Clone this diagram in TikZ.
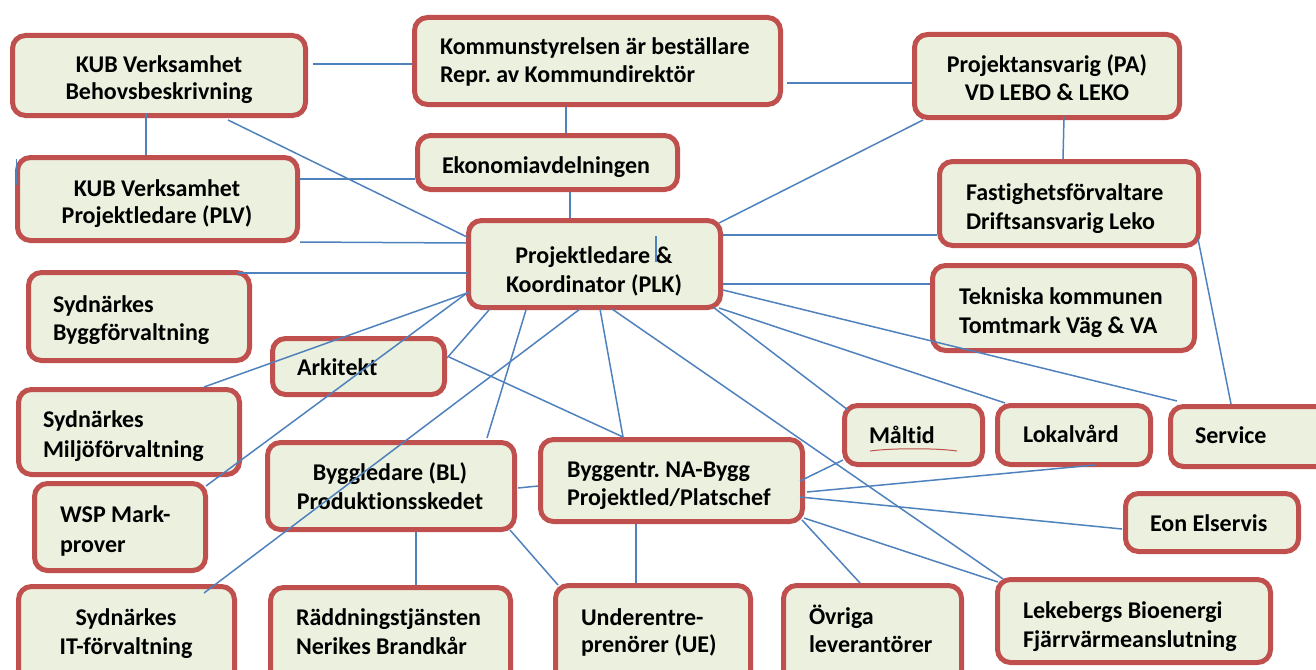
\documentclass[tikz,border=0pt]{standalone}
\usepackage{fontspec}
\setmainfont{Carlito}[Ligatures=NoCommon]
\frenchspacing
\usetikzlibrary{calc}
\definecolor{boxred}{HTML}{C0504D}
\definecolor{boxfill}{HTML}{EBF1DE}
\definecolor{linkblue}{HTML}{4F81BD}
% box by outer corners (pixels, y downward)
\newcommand\mkbox[5]{\node[orgbox, minimum width={#4-#2-5}, minimum height={#5-#3-5}] (#1) at ({(#2+#4)/2},{(#3+#5)/2}) {};}
% text: name, x, baseline y, anchor, line spacing, column spec, text
\newcommand\mktxt[7]{\node[lbl, font={\fontsize{24}{#5}\selectfont\bfseries}, anchor=#4] (#1) at (#2,#3) {\begin{tabular}[t]{@{}#6@{}}#7\end{tabular}};}
\begin{document}
\begin{tikzpicture}[x=1pt,y=-1pt,
  orgbox/.style={draw=boxred, fill=boxfill, line width=5pt, rounded corners=13pt, inner sep=0pt, outer sep=2.5pt},
  lbl/.style={inner sep=0pt, outer sep=0pt, text=black},
  link/.style={draw=linkblue, line width=1.5pt}]
\useasboundingbox (0,0) rectangle (1316,669);
% boxes
\mkbox{behov}{10}{33}{308}{118}
\mkbox{kommun}{412}{15}{783}{107}
\mkbox{pa}{912}{32}{1182}{120}
\mkbox{ekon}{415}{133}{680}{192}
\mkbox{plv}{15}{155}{300}{243}
\mkbox{fast}{937}{159}{1201}{248}
\mkbox{plk}{466}{218}{723}{310}
\mkbox{tek}{930}{263}{1197}{353}
\mkbox{sbygg}{26}{270}{252}{363}
\mkbox{ark}{270}{336}{447}{397}
\mkbox{smiljo}{16}{387}{242}{477}
\mkbox{wsp}{32}{481}{208}{573}
\mkbox{sit}{16}{584}{237}{700}
\mkbox{bl}{265}{440}{517}{532}
\mkbox{radd}{268}{585}{513}{700}
\mkbox{bentr}{538}{437}{805}{524}
\mkbox{malt}{842}{403}{985}{467}
\mkbox{lokal}{995}{403}{1153}{467}
\mkbox{serv}{1168}{404}{1340}{469}
\mkbox{eon}{1123}{491}{1301}{554}
\mkbox{ue}{553}{583}{753}{700}
\mkbox{ovr}{781}{583}{964}{700}
\mkbox{leke}{995}{577}{1273}{665}
% texts
\mktxt{tbehov}{159}{73}{base}{27}{c}{KUB Verksamhet\\Behovsbeskrivning}
\mktxt{tkommun}{440}{55}{base west}{28}{l}{Kommunstyrelsen är beställare\\Repr. av Kommundirektör}
\mktxt{tpa}{1047}{73}{base}{28}{c}{Projektansvarig (PA)\\VD LEBO \& LEKO}
\mktxt{tekon}{442}{173}{base west}{28}{l}{Ekonomiavdelningen}
\mktxt{tplv}{157}{196}{base}{27}{c}{KUB Verksamhet\\Projektledare (PLV)}
\mktxt{tplk}{594}{263}{base}{29}{c}{Projektledare \&\\Koordinator (PLK)}
\mktxt{tfast}{966}{200}{base west}{29}{l}{Fastighetsförvaltare\\Driftsansvarig Leko}
\mktxt{ttek}{959}{304}{base west}{29}{l}{Tekniska kommunen\\Tomtmark Väg \& VA}
\mktxt{tsbygg}{53}{312}{base west}{28}{l}{Sydnärkes\\Byggförvaltning}
\mktxt{tark}{297}{375}{base west}{28}{l}{Arkitekt}
\mktxt{tsmiljo}{43}{427}{base west}{30}{l}{Sydnärkes\\Miljöförvaltning}
\mktxt{twsp}{60}{522}{base west}{30}{l}{WSP Mark-\\prover}
\mktxt{tsit}{126}{625}{base}{29}{c}{Sydnärkes\\IT-förvaltning}
\mktxt{tbl}{390}{480}{base}{29}{c}{Byggledare (BL)\\Produktionsskedet}
\mktxt{tradd}{296}{625}{base west}{29}{l}{Räddningstjänsten\\Nerikes Brandkår}
\mktxt{tbentr}{567}{477}{base west}{28}{l}{Byggentr. NA-Bygg\\Projektled/Platschef}
\mktxt{tmalt}{869}{443}{base west}{28}{l}{Måltid}
\mktxt{tlokal}{1023}{442}{base west}{28}{l}{Lokalvård}
\mktxt{tserv}{1195}{443}{base west}{28}{l}{Service}
\mktxt{teon}{1150}{531}{base west}{28}{l}{Eon Elservis}
\mktxt{tue}{581}{625}{base west}{27}{l}{Underentre-\\prenörer (UE)}
\mktxt{tovr}{809}{624}{base west}{28}{l}{Övriga\\leverantörer}
\mktxt{tleke}{1023}{618}{base west}{29}{l}{Lekebergs Bioenergi\\Fjärrvärmeanslutning}
% red underline under Måltid
\draw[boxred, line width=1pt] ($(malt.north west)+(28,48)$) .. controls ($(malt.north west)+(50,45)$) and ($(malt.north west)+(95,45)$) .. ($(malt.north west)+(115,48)$);
% stray marks
\coordinate (m1a) at (16.5,159); \coordinate (m1b) at (16.5,185);
\draw[link] (m1a) -- (m1b);
\coordinate (m2a) at (656,236); \coordinate (m2b) at (656,262);
\draw[link, line width=1.2pt] (m2a) -- (m2b);
% connectors
\draw[link] ($(behov.north east)+(5,31)$) -- ($(kommun.north west)+(0,49)$);
\draw[link] ($(kommun.north east)+(4,68)$) -- ($(pa.north west)+(0,51)$);
\draw[link] ($(kommun.south west)+(154,0)$) -- ($(ekon.north west)+(151,0)$);
\draw[link] ($(ekon.south west)+(155,0)$) -- ($(plk.north west)+(104,0)$);
\draw[link] ($(behov.south west)+(136,-5)$) -- ($(plv.north west)+(131,0)$);
\draw[link] ($(behov.south west)+(218,2)$) -- ($(plk.north west)+(1,19)$);
\draw[link] ($(plv.north east)+(0,24)$) -- ($(ekon.north west)+(0,46)$);
\draw[link] ($(plv.south east)+(0,-1)$) -- ($(plk.north west)+(0,25)$);
\draw[link] ($(pa.south west)+(11,0)$) -- ($(plk.north east)+(-4,5)$);
\draw[link] ($(pa.south west)+(152,-3)$) -- ($(fast.north west)+(126,0)$);
\draw[link] ($(plk.north east)+(0,17)$) -- ($(fast.north west)+(0,76)$);
\draw[link] ($(plk.north east)+(0,66)$) -- ($(tek.north west)+(0,21)$);
\draw[link] ($(fast.north east)+(-3,80)$) -- ($(serv.north west)+(63,0)$);
\draw[link] ($(sbygg.north east)+(-15,3)$) -- ($(plk.north west)+(1,55)$);
\draw[link] ($(smiljo.north west)+(188,0)$) -- ($(plk.north west)+(4,74)$);
\draw[link] ($(wsp.north east)+(-2,5)$) -- ($(plk.north west)+(1,75)$);
\draw[link] ($(plk.south west)+(23,0)$) -- ($(ark.north east)+(0,22)$);
\draw[link] ($(plk.south west)+(60,0)$) -- ($(bl.north west)+(222,-2)$);
\draw[link] ($(plk.south west)+(114,-1)$) -- ($(sit.north west)+(188,9)$);
\draw[link] ($(plk.south west)+(134,-1)$) -- ($(bentr.north west)+(85,0)$);
\draw[link] ($(plk.south west)+(146,-1)$) -- ($(leke.north west)+(8,2)$);
\draw[link] ($(ark.north east)+(2,21)$) -- ($(bentr.north west)+(85,0)$);
\draw[link] ($(plk.south east)+(-10,-3)$) -- ($(malt.north west)+(6,7)$);
\draw[link] ($(plk.south east)+(-4,-2)$) -- ($(lokal.north west)+(10,0)$);
\draw[link] ($(plk.north east)+(0,72)$) -- ($(serv.north west)+(9,-3)$);
\draw[link] ($(bl.north east)+(1,48)$) -- ($(bentr.north west)+(0,49)$);
\draw[link] ($(bl.south west)+(151,0)$) -- ($(radd.north west)+(148,0)$);
\draw[link] ($(bl.south east)+(-7,-2)$) -- ($(ue.north west)+(5,2)$);
\draw[link] ($(bentr.south west)+(98,0)$) -- ($(ue.north west)+(83,0)$);
\draw[link] ($(bentr.north east)+(-5,44)$) -- ($(malt.south west)+(1,-7)$);
\draw[link] ($(bentr.north east)+(2,55)$) -- ($(lokal.south west)+(100,-2)$);
\draw[link] ($(bentr.north east)+(-5,60)$) -- ($(eon.north west)+(-1,38)$);
\draw[link] ($(bentr.south east)+(-3,-4)$) -- ($(ovr.north west)+(79,0)$);
\draw[link] ($(bentr.south east)+(-1,-6)$) -- ($(leke.north west)+(3,5)$);
\end{tikzpicture}
\end{document}
